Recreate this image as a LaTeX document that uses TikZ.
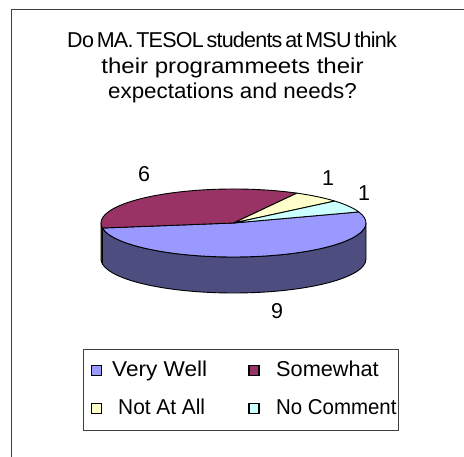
\documentclass[tikz,border=0pt]{standalone}
\usepackage{fontspec}
\setmainfont{Liberation Sans}
\newfontfamily\fTa{Liberation Sans}[LetterSpace=-3.6,WordSpace=0.55]
\newfontfamily\fTb{Liberation Sans}[FakeStretch=1.12]
\newfontfamily\fTc{Liberation Sans}[FakeStretch=1.04]
\newfontfamily\fLa{Liberation Sans}[FakeStretch=1.05]
\newfontfamily\fLb{Liberation Sans}[FakeStretch=1.01]
\newfontfamily\fLc{Liberation Sans}[FakeStretch=0.97]
\newfontfamily\fLd{Liberation Sans}[FakeStretch=0.95]
\usetikzlibrary{calc}
\definecolor{vwtop}{RGB}{153,153,255}
\definecolor{vwside}{RGB}{77,77,128}
\definecolor{swtop}{RGB}{153,51,102}
\definecolor{swside}{RGB}{77,26,51}
\definecolor{natop}{RGB}{255,255,204}
\definecolor{nctop}{RGB}{204,255,255}
\definecolor{framegray}{RGB}{64,64,64}
\tikzset{
  txt/.style={inner sep=0pt, font=\fontsize{21.5}{25}\selectfont},
  lgtxt/.style={inner sep=0pt, anchor=base west, font=\fontsize{21.5}{25}\selectfont},
  marker/.style={draw=black, line width=1.6pt, minimum width=10pt, minimum height=10pt, inner sep=0pt},
  pieline/.style={draw=black, line width=0.9pt, line join=round},
}
\begin{document}
\begin{tikzpicture}[x=1pt,y=1pt]
\useasboundingbox (0,0) rectangle (464,457);
% outer frame (partly visible)
\draw[framegray, line width=1pt] (11,-2) -- (11,447) -- (466,447);
% title
\node[txt, anchor=base] (title1) at (232,409) {\fTa Do MA. TESOL students at MSU think};
\node[txt, anchor=base] (title2) at (232.5,383) {\fTb their programmeets their};
\node[txt, anchor=base] (title3) at (232.5,358) {\fTc expectations and needs?};
% pie geometry
\def\cx{233.5}\def\cy{234}\def\rx{132.5}\def\ry{34}\def\dp{36}
\coordinate (c) at (\cx,\cy);
% side: Somewhat sliver 180 -> 188.5
\filldraw[pieline, fill=swside] ($(c)+(180:\rx pt and \ry pt)$) arc[start angle=180,end angle=188.5,x radius=\rx,y radius=\ry]
  -- ++(0,-\dp) arc[start angle=188.5,end angle=180,x radius=\rx,y radius=\ry] -- cycle;
% side: Very Well 188.5 -> 360
\filldraw[pieline, fill=vwside] ($(c)+(188.5:\rx pt and \ry pt)$) arc[start angle=188.5,end angle=360,x radius=\rx,y radius=\ry]
  -- ++(0,-\dp) arc[start angle=360,end angle=188.5,x radius=\rx,y radius=\ry] -- cycle;
% top slices
\filldraw[pieline, fill=vwtop] (c) -- ($(c)+(188.5:\rx pt and \ry pt)$) arc[start angle=188.5,end angle=379,x radius=\rx,y radius=\ry] -- cycle;
\filldraw[pieline, fill=swtop] (c) -- ($(c)+(61.4:\rx pt and \ry pt)$) arc[start angle=61.4,end angle=188.5,x radius=\rx,y radius=\ry] -- cycle;
\filldraw[pieline, fill=natop] (c) -- ($(c)+(40.2:\rx pt and \ry pt)$) arc[start angle=40.2,end angle=61.4,x radius=\rx,y radius=\ry] -- cycle;
\filldraw[pieline, fill=nctop] (c) -- ($(c)+(19:\rx pt and \ry pt)$) arc[start angle=19,end angle=40.2,x radius=\rx,y radius=\ry] -- cycle;
% data labels
\node[txt] (lab6) at (144,283) {6};
\node[txt] (lab1a) at (328,279) {1};
\node[txt] (lab1b) at (364,264) {1};
\node[txt] (lab9) at (277,146) {9};
% legend
\draw[framegray, line width=0.9pt] (83,27) rectangle (398,108);
\node[marker, fill=vwtop] (m1) at (96.5,86.5) {};
\node[lgtxt] (t1) at (112,80) {\fLa Very Well};
\node[marker, fill=swtop] (m2) at (254,86.5) {};
\node[lgtxt] (t2) at (276,80) {\fLb Somewhat};
\node[marker, fill=natop] (m3) at (96.5,48.5) {};
\node[lgtxt] (t3) at (118,42) {\fLc Not At All};
\node[marker, fill=nctop] (m4) at (254,48.5) {};
\node[lgtxt] (t4) at (276,42) {\fLd No Comment};
\end{tikzpicture}
\end{document}
